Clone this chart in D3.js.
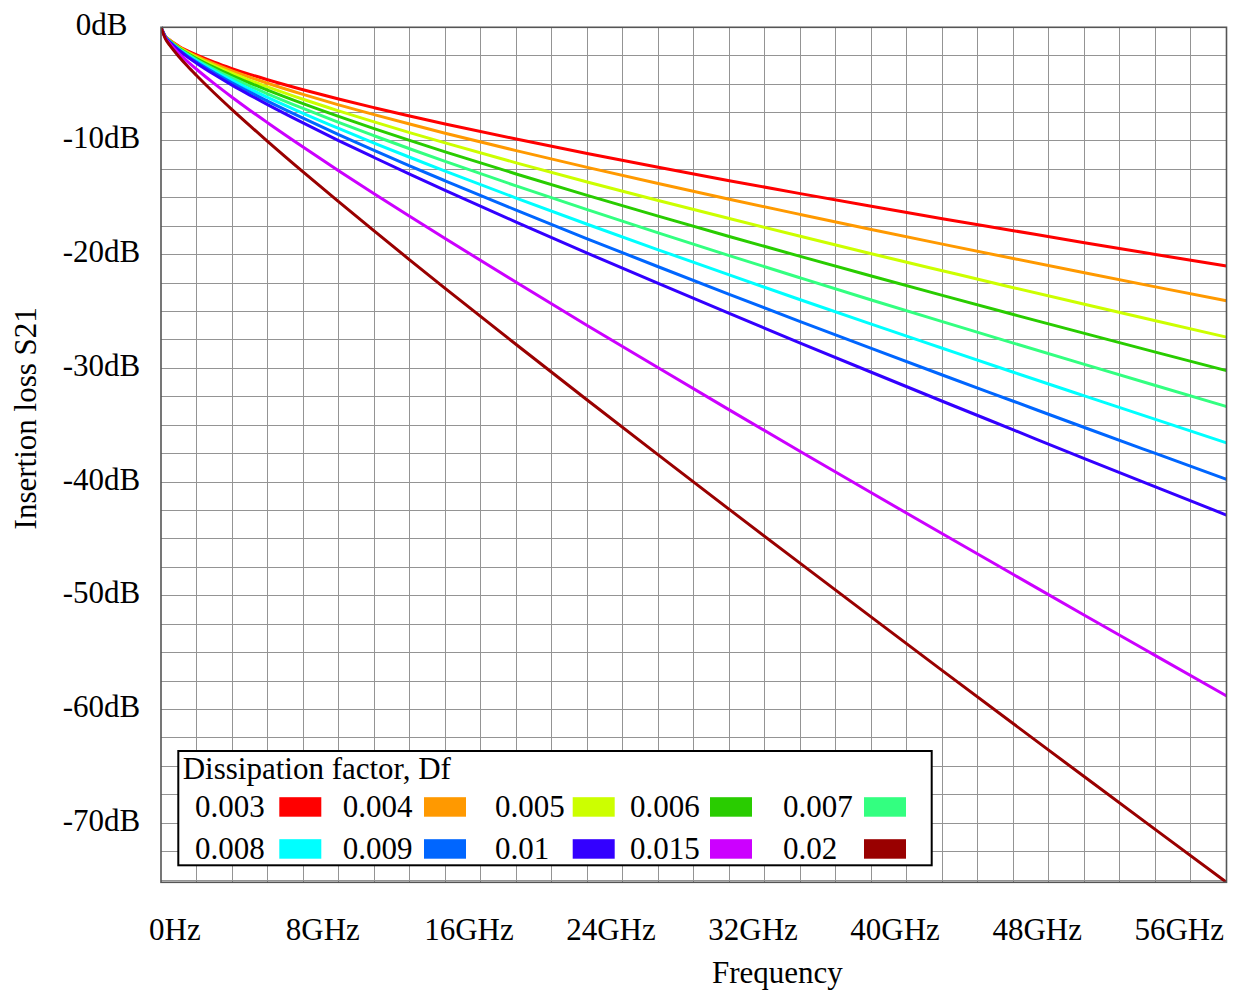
<!DOCTYPE html>
<html>
<head>
<meta charset="utf-8">
<script src="https://cdn.jsdelivr.net/npm/d3@7"></script>
<style>
  html, body { margin: 0; padding: 0; background: #ffffff; }
  svg { display: block; }
  text { font-family: "Liberation Serif", "Times New Roman", serif; fill: #000; }
</style>
</head>
<body>
<svg id="chart" width="1235" height="992"></svg>
<script>
// Frequency samples (GHz) shared by every trace
const freqGHz = [0, 0.25, 0.5, 1, 1.5, 2, 3, 4, 5, 6, 8, 10, 12, 14, 16, 20, 24, 28, 32, 36, 40, 44, 48, 52, 56, 60];

// Insertion loss S21 (dB) for each dissipation factor
const lossDf003 = [0, -0.79, -1.14, -1.66, -2.07, -2.43, -3.07, -3.63, -4.14, -4.61, -5.49, -6.31, -7.07, -7.80, -8.50, -9.83, -11.10, -12.31, -13.49, -14.63, -15.74, -16.83, -17.89, -18.95, -19.98, -21.00];
const lossDf004 = [0, -0.80, -1.16, -1.71, -2.15, -2.54, -3.22, -3.83, -4.39, -4.92, -5.90, -6.82, -7.68, -8.51, -9.32, -10.85, -12.32, -13.74, -15.12, -16.46, -17.78, -19.07, -20.34, -21.59, -22.83, -24.05];
const lossDf005 = [0, -0.82, -1.19, -1.76, -2.23, -2.64, -3.38, -4.04, -4.66, -5.24, -6.33, -7.35, -8.32, -9.26, -10.17, -11.92, -13.60, -15.23, -16.82, -18.38, -19.91, -21.41, -22.90, -24.36, -25.81, -27.25];
const lossDf006 = [0, -0.83, -1.22, -1.81, -2.30, -2.74, -3.53, -4.24, -4.90, -5.53, -6.72, -7.84, -8.91, -9.95, -10.96, -12.90, -14.78, -16.61, -18.40, -20.15, -21.88, -23.58, -25.26, -26.92, -28.57, -30.20];
const lossDf007 = [0, -0.84, -1.24, -1.86, -2.38, -2.85, -3.69, -4.45, -5.17, -5.85, -7.14, -8.37, -9.54, -10.68, -11.80, -13.95, -16.04, -18.08, -20.08, -22.04, -23.98, -25.89, -27.78, -29.65, -31.51, -33.35];
const lossDf008 = [0, -0.85, -1.27, -1.92, -2.46, -2.95, -3.85, -4.66, -5.43, -6.17, -7.57, -8.90, -10.18, -11.43, -12.65, -15.02, -17.32, -19.57, -21.78, -23.96, -26.11, -28.23, -30.34, -32.42, -34.49, -36.55];
const lossDf009 = [0, -0.87, -1.30, -1.97, -2.54, -3.06, -4.00, -4.88, -5.70, -6.49, -7.99, -9.43, -10.82, -12.18, -13.50, -16.08, -18.60, -21.06, -23.49, -25.88, -28.24, -30.58, -32.89, -35.20, -37.48, -39.75];
const lossDf010 = [0, -0.88, -1.32, -2.02, -2.62, -3.16, -4.16, -5.09, -5.96, -6.80, -8.41, -9.96, -11.45, -12.91, -14.34, -17.13, -19.86, -22.53, -25.17, -27.77, -30.34, -32.89, -35.41, -37.93, -40.42, -42.90];
const lossDf015 = [0, -0.95, -1.45, -2.29, -3.02, -3.69, -4.96, -6.15, -7.29, -8.39, -10.53, -12.61, -14.63, -16.62, -18.58, -22.43, -26.22, -29.95, -33.65, -37.31, -40.94, -44.55, -48.13, -51.71, -55.26, -58.80];
const lossDf020 = [0, -1.02, -1.59, -2.56, -3.43, -4.24, -5.78, -7.24, -8.65, -10.03, -12.72, -15.34, -17.91, -20.45, -22.96, -27.90, -32.78, -37.61, -42.40, -47.15, -51.88, -56.58, -61.26, -65.92, -70.57, -75.20];

const dfLabels = ["0.003", "0.004", "0.005", "0.006", "0.007", "0.008", "0.009", "0.01", "0.015", "0.02"];
const lossSeries = [lossDf003, lossDf004, lossDf005, lossDf006, lossDf007, lossDf008, lossDf009, lossDf010, lossDf015, lossDf020];
const seriesColors = ["#ff0000", "#ff9900", "#ccff00", "#29cc00", "#33ff80", "#00ffff", "#0066ff", "#3300ff", "#cc00ff", "#990000"];

// Axis ticks
const xLabelTicks = [0, 8, 16, 24, 32, 40, 48, 56];
const yLabelTicks = [0, -10, -20, -30, -40, -50, -60, -70];

// ---- layout ----
const plot = { left: 161, right: 1226.5, top: 27.3, bottom: 882.3 };
const FONT = 31;

const svg = d3.select("#chart");

const yMin = d3.min(lossSeries, s => d3.min(s));
const x = d3.scaleLinear().domain([0, 60]).range([plot.left, plot.right]);
const y = d3.scaleLinear().domain([yMin, 0]).range([plot.bottom, plot.top]);

// grid
const grid = svg.append("g").attr("stroke", "#949494").attr("stroke-width", 1).attr("shape-rendering", "crispEdges");
grid.selectAll("line.v").data(d3.range(2, 60, 2)).join("line")
  .attr("x1", d => x(d)).attr("x2", d => x(d))
  .attr("y1", plot.top).attr("y2", plot.bottom);
grid.selectAll("line.h").data(d3.range(-2.5, yMin, -2.5)).join("line")
  .attr("x1", plot.left).attr("x2", plot.right)
  .attr("y1", d => y(d)).attr("y2", d => y(d));

// traces
svg.append("clipPath").attr("id", "plotClip").append("rect")
  .attr("x", plot.left).attr("y", plot.top - 2)
  .attr("width", plot.right - plot.left).attr("height", plot.bottom - plot.top + 2);

const line = d3.line()
  .x((d, i) => x(freqGHz[i]))
  .y(d => y(d))
  .curve(d3.curveMonotoneX);

svg.append("g").attr("clip-path", "url(#plotClip)")
  .selectAll("path").data(lossSeries).join("path")
  .attr("d", d => line(d))
  .attr("fill", "none")
  .attr("stroke", (d, i) => seriesColors[i])
  .attr("stroke-width", 3)
  .attr("stroke-linejoin", "round");

// frame
svg.append("rect")
  .attr("x", plot.left).attr("y", plot.top)
  .attr("width", plot.right - plot.left).attr("height", plot.bottom - plot.top)
  .attr("fill", "none").attr("stroke", "#555").attr("stroke-width", 1.6);

// x axis labels
const xAxis = d3.axisBottom(x)
  .tickValues(xLabelTicks)
  .tickSize(0)
  .tickFormat(d => d === 0 ? "0Hz" : d + "GHz");
const gx = svg.append("g").attr("transform", `translate(0,${plot.bottom})`).call(xAxis);
gx.select(".domain").remove();
gx.selectAll("text")
  .attr("font-size", FONT)
  .attr("font-family", "Liberation Serif, serif")
  .attr("fill", "#000")
  .attr("y", 58)
  .attr("dy", 0)
  .attr("text-anchor", "start")
  .each(function () {
    const w = this.getComputedTextLength();
    d3.select(this).attr("x", -0.24 * w);
  });

// y axis labels
const yAxis = d3.axisLeft(y)
  .tickValues(yLabelTicks)
  .tickSize(0)
  .tickFormat(d => d + "dB");
const gy = svg.append("g").attr("transform", `translate(101.5,0)`).call(yAxis);
gy.select(".domain").remove();
gy.selectAll("text")
  .attr("font-size", FONT)
  .attr("font-family", "Liberation Serif, serif")
  .attr("fill", "#000")
  .attr("x", 0)
  .attr("dy", 7)
  .attr("text-anchor", "middle");

// axis titles
svg.append("text")
  .attr("x", 712).attr("y", 983)
  .attr("font-size", FONT)
  .text("Frequency");
svg.append("text")
  .attr("transform", "translate(35.7,418.3) rotate(-90)")
  .attr("text-anchor", "middle")
  .attr("font-size", FONT)
  .text("Insertion loss S21");

// legend
const legend = svg.append("g");
legend.append("rect")
  .attr("x", 178.3).attr("y", 751)
  .attr("width", 753.4).attr("height", 114.3)
  .attr("fill", "#fff").attr("stroke", "#000").attr("stroke-width", 2);
legend.append("text")
  .attr("x", 182.7).attr("y", 779.3)
  .attr("font-size", FONT)
  .text("Dissipation factor, Df");

const colText = [195, 342.7, 495, 630, 783];
const colSwatch = [279.3, 424, 572.7, 710, 864];
const rowBase = [816.7, 858.7];
const entries = legend.selectAll("g.entry").data(dfLabels).join("g").attr("class", "entry");
entries.append("text")
  .attr("x", (d, i) => colText[i % 5])
  .attr("y", (d, i) => rowBase[Math.floor(i / 5)])
  .attr("font-size", FONT)
  .text(d => d);
entries.append("rect")
  .attr("x", (d, i) => colSwatch[i % 5])
  .attr("y", (d, i) => rowBase[Math.floor(i / 5)] - 19.5)
  .attr("width", 42).attr("height", 19.5)
  .attr("fill", (d, i) => seriesColors[i]);
</script>
</body>
</html>
